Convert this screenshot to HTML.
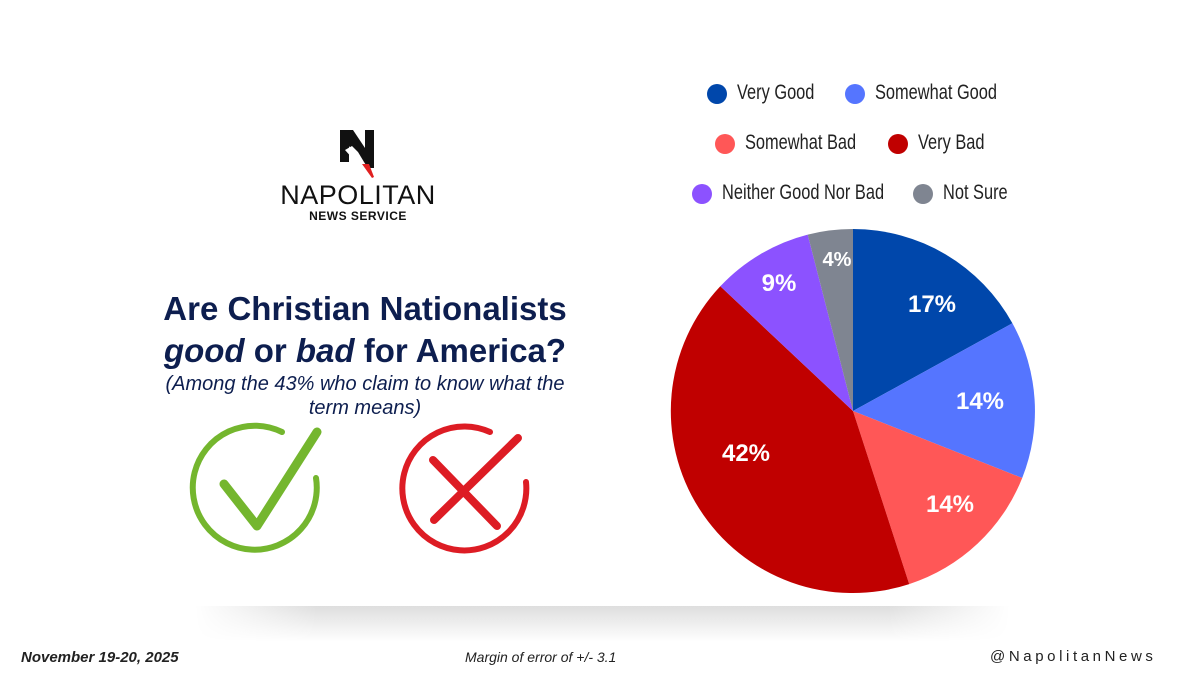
<!DOCTYPE html>
<html><head><meta charset="utf-8"><style>
body{margin:0;width:1200px;height:675px;background:#fff;overflow:hidden;position:relative;font-family:"Liberation Sans",sans-serif}
.a{position:absolute}
.lg{position:absolute;font-family:"Liberation Sans",sans-serif;font-size:21px;color:#222;white-space:nowrap;line-height:20px;transform:scaleX(0.78);transform-origin:0 0}
.dot{position:absolute;width:20px;height:20px;border-radius:50%}
</style></head><body>
<div class="a" style="left:195px;top:606px;width:815px;height:36px;background:linear-gradient(to bottom,#dedede,#fff);-webkit-mask:linear-gradient(to right,transparent,#000 15%,#000 85%,transparent);"></div>
<svg class="a" style="left:0;top:0" width="1200" height="675">
<g>
<path d="M853,411 L853,229 A182,182 0 0 1 1012.4,323.3Z" fill="#0047AB"/>
<path d="M853,411 L1012.4,323.3 A182,182 0 0 1 1022.2,478Z" fill="#5575FF"/>
<path d="M853,411 L1022.2,478 A182,182 0 0 1 909.2,584.1Z" fill="#FF5757"/>
<path d="M853,411 L909.2,584.1 A182,182 0 0 1 720.3,286.3Z" fill="#C00000"/>
<path d="M853,411 L720.3,286.3 A182,182 0 0 1 807.7,234.6Z" fill="#8C52FF"/>
<path d="M853,411 L807.7,234.6 A182,182 0 0 1 853,229Z" fill="#7F8591"/>
</g>
<g font-family="Liberation Sans" font-weight="bold" fill="#fff" font-size="24" text-anchor="middle">
<text x="932" y="312">17%</text><text x="980" y="409">14%</text><text x="950" y="512">14%</text>
<text x="746" y="461">42%</text><text x="779" y="291">9%</text><text x="837" y="266" font-size="20">4%</text>
</g>
<!-- logo -->
<path d="M340,130 L353,130 L365,148 L365,130 L374,130 L374,168 L363,168 L349,146 L349,162 L340,162Z" fill="#111"/>
<path d="M345,150 L352,146 L358,152 L364,162 L372,174 L369,177 L360,166 L354,160Z" fill="#fff"/>
<path d="M362,164 L369,164 L374,177 L372,178Z" fill="#e02020"/>
<text x="358" y="204" text-anchor="middle" font-family="Liberation Sans" font-size="27" fill="#111" letter-spacing="0.5">NAPOLITAN</text>
<text x="358" y="220" text-anchor="middle" font-family="Liberation Sans" font-weight="bold" font-size="12" fill="#111" letter-spacing="0.5">NEWS SERVICE</text>
<!-- check -->
<g fill="none" stroke="#74B62E" stroke-linecap="round">
<path d="M282,432 A62,62 0 1 0 316,478" stroke-width="6"/>
<path d="M224,484 L257,526 L317,432" stroke-width="9" stroke-linejoin="round"/>
</g>
<g fill="none" stroke="#DD1C24" stroke-linecap="round">
<path d="M490,432 A62,62 0 1 0 526,482" stroke-width="6"/>
<path d="M433,460 L497,526 M518,438 L434,520" stroke-width="8"/>
</g>
</svg>
<div class="a" style="left:90px;top:288px;width:550px;text-align:center;color:#0d1e4f;font-weight:bold;font-size:33px;line-height:42px">Are Christian Nationalists<br><i>good</i> or <i>bad</i> for America?</div>
<div class="a" style="left:120px;top:372px;width:490px;text-align:center;color:#0d1e4f;font-style:italic;font-size:20px;line-height:24px">(Among the 43% who claim to know what the<br>term means)</div>
<div class="dot" style="left:707px;top:84px;background:#0047AB"></div><div class="lg" style="left:737px;top:83px">Very Good</div>
<div class="dot" style="left:845px;top:84px;background:#5575FF"></div><div class="lg" style="left:875px;top:83px">Somewhat Good</div>
<div class="dot" style="left:715px;top:134px;background:#FF5757"></div><div class="lg" style="left:745px;top:133px">Somewhat Bad</div>
<div class="dot" style="left:888px;top:134px;background:#C00000"></div><div class="lg" style="left:918px;top:133px">Very Bad</div>
<div class="dot" style="left:692px;top:184px;background:#8C52FF"></div><div class="lg" style="left:722px;top:183px">Neither Good Nor Bad</div>
<div class="dot" style="left:913px;top:184px;background:#7F8591"></div><div class="lg" style="left:943px;top:183px">Not Sure</div>
<div class="a" style="left:21px;top:649px;font-size:15px;font-weight:bold;font-style:italic;color:#222">November 19-20, 2025</div>
<div class="a" style="left:465px;top:649px;font-size:14px;font-style:italic;color:#222">Margin of error of +/- 3.1</div>
<div class="a" style="left:990px;top:648px;font-size:15px;color:#222;letter-spacing:3.6px">@NapolitanNews</div>
</body></html>
